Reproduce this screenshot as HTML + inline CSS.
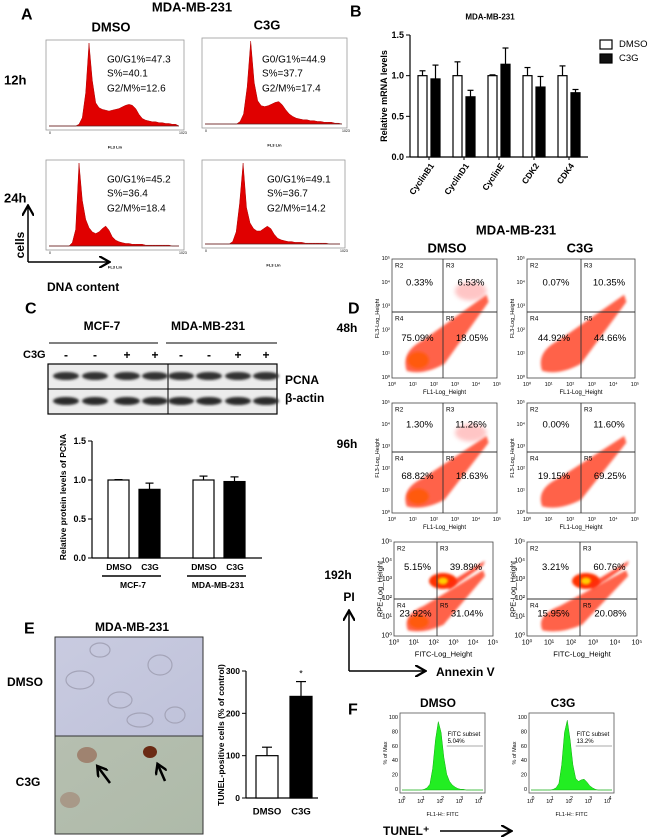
<!DOCTYPE html>
<html><head><meta charset="utf-8">
<style>
html,body{margin:0;padding:0;background:#fff;}
#fig{position:relative;width:650px;height:840px;overflow:hidden;font-family:"Liberation Sans",sans-serif;}
svg text{font-family:"Liberation Sans",sans-serif;}
</style></head>
<body>
<div id="fig">
<svg id="svg" width="650" height="840" viewBox="0 0 650 840" xmlns="http://www.w3.org/2000/svg">
<defs>
<filter id="blur" x="-20%" y="-20%" width="140%" height="140%"><feGaussianBlur stdDeviation="2.2"/></filter>
<filter id="blur2" x="-20%" y="-20%" width="140%" height="140%"><feGaussianBlur stdDeviation="1.2"/></filter>
<marker id="arr" markerWidth="8" markerHeight="8" refX="6" refY="4" orient="auto"><path d="M0,0 L7,4 L0,8" fill="none" stroke="#000" stroke-width="1.5"/></marker>
<marker id="arrS" markerWidth="5" markerHeight="5" refX="3.5" refY="2.5" orient="auto"><path d="M0,0 L4,2.5 L0,5" fill="none" stroke="#000" stroke-width="1"/></marker>
<linearGradient id="imgTop" x1="0" y1="0" x2="1" y2="1"><stop offset="0" stop-color="#c9cbe0"/><stop offset="1" stop-color="#bfc2da"/></linearGradient>
<linearGradient id="imgBot" x1="0" y1="0" x2="1" y2="1"><stop offset="0" stop-color="#b6bfb0"/><stop offset="1" stop-color="#aebaa9"/></linearGradient>
</defs>
<g id="root"></g>
</svg>
</div>
<script>
// ---------- DATA ----------
// Panel A histograms (relative counts, 40 bins)
const histA12DMSO = [0,0,0,0,0,0,0,0,0,0.02,0.1,0.4,1.0,0.55,0.28,0.22,0.2,0.19,0.18,0.19,0.2,0.21,0.23,0.25,0.26,0.25,0.21,0.14,0.09,0.07,0.06,0.05,0.05,0.04,0.04,0.03,0.03,0.02,0.02,0];
const histA12C3G  = [0,0,0,0,0,0,0,0,0,0,0.03,0.12,0.45,1.0,0.5,0.28,0.22,0.21,0.22,0.24,0.26,0.27,0.23,0.17,0.12,0.09,0.07,0.06,0.05,0.05,0.04,0.04,0.03,0.03,0.02,0.02,0.02,0.01,0.01,0];
const histA24DMSO = [0,0,0,0,0,0,0,0.04,0.2,1.0,0.55,0.32,0.22,0.17,0.15,0.17,0.21,0.24,0.19,0.11,0.07,0.05,0.04,0.03,0.03,0.02,0.02,0.02,0.02,0.01,0.01,0.01,0.01,0.01,0.01,0.01,0.01,0,0,0];
const histA24C3G  = [0,0,0,0,0,0,0,0,0.03,0.15,0.5,1.0,0.45,0.26,0.19,0.16,0.16,0.19,0.22,0.19,0.12,0.07,0.05,0.04,0.03,0.03,0.02,0.02,0.02,0.01,0.01,0.01,0.01,0.01,0.01,0.01,0,0,0,0];
const statsA = [["G0/G1%=47.3","S%=40.1","G2/M%=12.6"],["G0/G1%=44.9","S%=37.7","G2/M%=17.4"],["G0/G1%=45.2","S%=36.4","G2/M%=18.4"],["G0/G1%=49.1","S%=36.7","G2/M%=14.2"]];

// Panel B
const genesB = ["CyclinB1","CyclinD1","CyclinE","CDK2","CDK4"];
const dmsoB = [1.0,1.0,1.0,1.0,1.0];
const dmsoBerr = [0.06,0.17,0.01,0.1,0.12];
const c3gB = [0.96,0.74,1.14,0.86,0.79];
const c3gBerr = [0.17,0.08,0.2,0.13,0.04];
const ticksB = [0.0,0.5,1.0,1.5];

// Panel C
const groupsC = ["MCF-7","MDA-MB-231"];
const dmsoC = [1.0,1.0];
const dmsoCerr = [0.005,0.05];
const c3gC = [0.88,0.98];
const c3gCerr = [0.08,0.06];
const ticksC = [0.0,0.5,1.0,1.5];

// Panel D quadrant percentages [R2,R3,R4,R5]
const quadD = [["0.33%","6.53%","75.09%","18.05%"],["0.07%","10.35%","44.92%","44.66%"],["1.30%","11.26%","68.82%","18.63%"],["0.00%","11.60%","19.15%","69.25%"],["5.15%","39.89%","23.92%","31.04%"],["3.21%","60.76%","15.95%","20.08%"]];

// Panel E
const catsE = ["DMSO","C3G"];
const valsE = [100,240];
const errE = [20,35];
const ticksE = [0,100,200,300];

// Panel F histograms (30 bins, % of max)
const histFDMSO = [0,0,0,0,0,0,0,0,1,3,8,30,70,95,80,45,22,12,7,4,2,1,1,0,0,0,0,0,0,0];
const histFC3G  = [0,0,0,0,0,0,0,0,1,3,9,35,80,97,70,35,16,12,14,15,11,6,3,1,0,0,0,0,0,0];
const subsetF = ["5.04%","13.2%"];

// ---------- HELPERS ----------
const NS="http://www.w3.org/2000/svg";
const root=document.getElementById('root');
function mk(tag,attrs,parent){const e=document.createElementNS(NS,tag);for(const k in attrs)e.setAttribute(k,attrs[k]);(parent||root).appendChild(e);return e;}
function txt(x,y,s,size,opts){opts=opts||{};const e=mk('text',{x:x,y:y,'font-size':size,'text-anchor':opts.anchor||'start','font-weight':opts.bold?'bold':'normal',fill:opts.fill||'#000','dominant-baseline':'central'},opts.parent);if(opts.rot!==undefined)e.setAttribute('transform','rotate('+opts.rot+' '+x+' '+y+')');e.textContent=s;return e;}
function linear(d0,d1,r0,r1){return v=>r0+(v-d0)/(d1-d0)*(r1-r0);}

// ---------- PANEL A ----------
let t;
t=txt(21,15,"A",16,{bold:true});
t=txt(192,7,"MDA-MB-231",13,{bold:true,anchor:'middle'});
t=txt(111,27,"DMSO",13,{bold:true,anchor:'middle'});
t=txt(267,25,"C3G",13,{bold:true,anchor:'middle'});
t=txt(4,80,"12h",13,{bold:true});
t=txt(4,198,"24h",13,{bold:true});
const boxesA=[[46,40,184,130],[202,38,347,128],[46,160,184,250],[202,160,345,248]];
const histsA=[histA12DMSO,histA12C3G,histA24DMSO,histA24C3G];
boxesA.forEach((b,i)=>{
  const g=mk('g',{});
  
  
  mk('rect',{x:b[0],y:b[1],width:b[2]-b[0],height:b[3]-b[1],fill:'#fff',stroke:'#999','stroke-width':0.8},g);
  const x0=b[0]+3,x1=b[2]-5,yb=b[3]-4,yt=b[1]+3;
  const h=histsA[i];const xs=linear(0,h.length-1,x0,x1);const ys=linear(0,1,yb,yt);
  let d='M'+x0+','+yb;h.forEach((v,k)=>{d+=' L'+xs(k).toFixed(1)+','+ys(v).toFixed(1);});d+=' L'+x1+','+yb+' Z';
  const p=mk('path',{d:d,fill:'#e00000',stroke:'#b00000','stroke-width':0.5},g);
  
  
  mk('line',{x1:x0,y1:yb,x2:x1,y2:yb,stroke:'#333','stroke-width':0.6},g);
  txt(x0,b[3]+3,"0",3.5,{parent:g});txt(x1,b[3]+3,"1023",3.5,{parent:g});
  txt((b[0]+b[2])/2,b[3]+17,"FL3 Lin",4,{anchor:'middle',bold:true,parent:g});
  const tx=i%2===0?107:262+(i===3?5:0);const ty=i<2?[60,74,89]:[180,194,209];
  statsA[i].forEach((s,k)=>{const e=txt(tx,ty[k],s,10,{parent:g});});
});
let ln=mk('line',{x1:28,y1:262,x2:28,y2:207,stroke:'#000','stroke-width':1.5,'marker-end':'url(#arr)'});
ln=mk('line',{x1:28,y1:262,x2:108,y2:262,stroke:'#000','stroke-width':1.5,'marker-end':'url(#arr)'});
t=txt(20,245,"cells",12,{bold:true,anchor:'middle',rot:-90});
t=txt(47,287,"DNA content",12,{bold:true});

// ---------- PANEL B ----------
t=txt(350,12,"B",16,{bold:true});
t=txt(490,17,"MDA-MB-231",8,{bold:true,anchor:'middle'});
const yB=linear(0,1.5,157,35);
const gB=mk('g',{});
mk('line',{x1:410,y1:yB(0),x2:410,y2:yB(1.5),stroke:'#000','stroke-width':1.2},gB);
mk('line',{x1:410,y1:yB(0),x2:588,y2:yB(0),stroke:'#000','stroke-width':1.2},gB);
ticksB.forEach(v=>{mk('line',{x1:406,y1:yB(v),x2:410,y2:yB(v),stroke:'#000'},gB);txt(404,yB(v),v.toFixed(1),9,{anchor:'end',bold:true,parent:gB});});
t=txt(384,96,"Relative mRNA levels",9,{bold:true,anchor:'middle',rot:-90,parent:gB});
function bar(g,x,w,y0,y1,fill,name){const r=mk('rect',{x:x,y:Math.min(y0,y1),width:w,height:Math.abs(y0-y1),fill:fill,stroke:'#000','stroke-width':1.2},g);return r;}
function err(g,cx,ytop,yerr,cap){mk('line',{x1:cx,y1:ytop,x2:cx,y2:yerr,stroke:'#000','stroke-width':1.2},g);mk('line',{x1:cx-cap,y1:yerr,x2:cx+cap,y2:yerr,stroke:'#000','stroke-width':1.2},g);}
genesB.forEach((gname,i)=>{
  const x=418+i*35;
  err(gB,x+4.5,yB(dmsoB[i]),yB(dmsoB[i]+dmsoBerr[i]),3);
  bar(gB,x,9,yB(0),yB(dmsoB[i]),'#fff','bar-dmso-'+gname.toLowerCase());
  err(gB,x+17.5,yB(c3gB[i]),yB(c3gB[i]+c3gBerr[i]),3);
  bar(gB,x+13,9,yB(0),yB(c3gB[i]),'#000','bar-c3g-'+gname.toLowerCase());
  mk('line',{x1:x+11,y1:yB(0),x2:x+11,y2:yB(0)+3,stroke:'#000'},gB);
  const e=txt(x+14,164,gname,8.5,{bold:true,anchor:'end',rot:-55,parent:gB});
});
let lg=mk('g',{});
mk('rect',{x:600,y:40,width:12,height:9,fill:'#fff',stroke:'#000','stroke-width':1.2},lg);txt(619,44.5,"DMSO",9.5,{parent:lg});
mk('rect',{x:600,y:54,width:12,height:9,fill:'#111',stroke:'#000','stroke-width':1.2},lg);txt(619,58.5,"C3G",9.5,{parent:lg});

// ---------- PANEL C ----------
t=txt(25,309,"C",16,{bold:true});
txt(102,326,"MCF-7",12,{bold:true,anchor:'middle'});txt(208,326,"MDA-MB-231",12,{bold:true,anchor:'middle'});
mk('line',{x1:49,y1:343,x2:158,y2:343,stroke:'#000'});mk('line',{x1:166,y1:343,x2:277,y2:343,stroke:'#000'});
txt(23,355,"C3G",11,{bold:true});
["-","-","+","+","-","-","+","+"].forEach((s,i)=>{txt([66,95,127,155,181,209,238,266][i],355,s,12,{bold:true,anchor:'middle'});});
const blot=mk('g',{});
mk('rect',{x:48,y:364,width:229,height:50,fill:'#ececec',stroke:'#000','stroke-width':1.2},blot);
mk('line',{x1:48,y1:389,x2:277,y2:389,stroke:'#000'},blot);mk('line',{x1:168,y1:364,x2:168,y2:414,stroke:'#000'},blot);
[66,95,127,155,181,209,238,266].forEach((cx,i)=>{
  mk('ellipse',{cx:cx,cy:376,rx:13,ry:4,fill:'#333',filter:'url(#blur2)'},blot);
  mk('ellipse',{cx:cx,cy:401,rx:13,ry:4,fill:'#2a2a2a',filter:'url(#blur2)'},blot);
});
txt(285,380,"PCNA",12,{bold:true});txt(285,398,"β-actin",12,{bold:true});
const yC=linear(0,1.5,558,441);
const gC=mk('g',{});
mk('line',{x1:92,y1:yC(0),x2:92,y2:yC(1.5),stroke:'#000','stroke-width':1.2},gC);
mk('line',{x1:92,y1:yC(0),x2:262,y2:yC(0),stroke:'#000','stroke-width':1.2},gC);
ticksC.forEach(v=>{mk('line',{x1:88,y1:yC(v),x2:92,y2:yC(v),stroke:'#000'},gC);txt(86,yC(v),v.toFixed(1),9,{anchor:'end',bold:true,parent:gC});});
txt(63,497,"Relative protein levels of PCNA",8.5,{bold:true,anchor:'middle',rot:-90,parent:gC});
groupsC.forEach((gname,i)=>{
  const x=108+i*85;
  err(gC,x+10.5,yC(dmsoC[i]),yC(dmsoC[i]+dmsoCerr[i]),4);
  bar(gC,x,21,yC(0),yC(dmsoC[i]),'#fff','bar-dmso-'+gname.toLowerCase());
  err(gC,x+41.5,yC(c3gC[i]),yC(c3gC[i]+c3gCerr[i]),4);
  bar(gC,x+31,21,yC(0),yC(c3gC[i]),'#000','bar-c3g-'+gname.toLowerCase());
  txt(x+11,567,"DMSO",8.5,{bold:true,anchor:'middle',parent:gC});txt(x+42,567,"C3G",8.5,{bold:true,anchor:'middle',parent:gC});
  mk('line',{x1:x-6,y1:576,x2:x+53,y2:576,stroke:'#000','stroke-width':1.5},gC);
  txt(x+25,585,gname,8.5,{bold:true,anchor:'middle',parent:gC});
});

// ---------- PANEL D ----------
t=txt(348,309,"D",16,{bold:true});
txt(516,230,"MDA-MB-231",13,{bold:true,anchor:'middle'});
txt(447,248,"DMSO",13,{bold:true,anchor:'middle'});txt(580,248,"C3G",13,{bold:true,anchor:'middle'});
txt(347,328,"48h",12,{bold:true,anchor:'middle'});txt(347,444,"96h",12,{bold:true,anchor:'middle'});txt(338,575,"192h",12,{bold:true,anchor:'middle'});txt(349,597,"PI",12,{bold:true,anchor:'middle'});
const boxesD=[[392,259,497,378,443,312],[527,259,635,378,581,312],[392,403,497,513,443,452],[527,403,635,513,581,452],[394,542,493,636,437,599],[527,542,637,636,580,599]];
const sup=["⁰","¹","²","³","⁴","⁵"];
boxesD.forEach((b,i)=>{
  const g=mk('g',{});
  
  
  const [x0,y0,x1,y1,vx,hy]=b;const w=x1-x0,h=y1-y0;
  mk('rect',{x:x0,y:y0,width:w,height:h,fill:'#fff'},g);
  const late=i>=4;
  const bl='M'+(x0+w*0.14)+','+(y1-h*0.06)+' Q'+(x0+w*0.08)+','+(y1-h*0.22)+' '+(x0+w*0.3)+','+(y1-h*0.32)+' L'+(x0+w*0.9)+','+(y0+h*0.3)+' L'+(x0+w*0.92)+','+(y0+h*0.36)+' L'+(x0+w*0.5)+','+(y1-h*0.12)+' Q'+(x0+w*0.3)+','+(y1-h*0.02)+' '+(x0+w*0.14)+','+(y1-h*0.06)+' Z';
  mk('path',{d:bl,fill:'#ff3a1a',opacity:0.8,filter:'url(#blur2)'},g);
  if(i===0||i===2||i===4){mk('ellipse',{cx:x0+w*0.25,cy:y1-h*0.15,rx:w*0.1,ry:h*0.07,fill:'#ff5a10',filter:'url(#blur2)'},g);}
  if(i===0||i===2){mk('ellipse',{cx:x0+w*0.75,cy:y0+h*0.27,rx:w*0.15,ry:h*0.08,fill:'#ff8080',opacity:0.45,filter:'url(#blur)'},g);}
  if(late){mk('ellipse',{cx:vx+6,cy:hy-18,rx:14,ry:8,fill:'#ff3000',filter:'url(#blur2)'},g);
    mk('ellipse',{cx:vx+6,cy:hy-18,rx:5,ry:3.5,fill:'#ffd000',filter:'url(#blur2)'},g);
    mk('path',{d:'M'+(vx+10)+','+(hy-15)+' L'+(x1-8)+','+(y0+h*0.2)+' L'+(x1-10)+','+(y0+h*0.25)+' L'+(vx+12)+','+(hy-9)+' Z',fill:'#ff2a10',opacity:0.8,filter:'url(#blur2)'},g);}
  mk('rect',{x:x0,y:y0,width:w,height:h,fill:'none',stroke:'#444','stroke-width':0.8},g);
  mk('line',{x1:vx,y1:y0,x2:vx,y2:y1,stroke:'#333','stroke-width':0.9},g);
  mk('line',{x1:x0,y1:hy,x2:x1,y2:hy,stroke:'#333','stroke-width':0.9},g);
  txt(x0+3,y0+7,"R2",6.5,{parent:g});txt(vx+3,y0+7,"R3",6.5,{parent:g});txt(x0+3,hy+7,"R4",6.5,{parent:g});txt(vx+3,hy+7,"R5",6.5,{parent:g});
  const q=quadD[i];const fs=9.5;
  txt((x0+vx)/2+2,y0+(hy-y0)*0.45,q[0],fs,{anchor:'middle',parent:g});
  txt((vx+x1)/2+1,y0+(hy-y0)*0.45,q[1],fs,{anchor:'middle',parent:g});
  txt((x0+vx)/2,hy+(y1-hy)*0.4,q[2],fs,{anchor:'middle',parent:g});
  txt((vx+x1)/2+2,hy+(y1-hy)*0.4,q[3],fs,{anchor:'middle',parent:g});
  for(let k=0;k<6;k++){txt(x0+w*k/5,y1+7,"10"+sup[k],late?7:5.5,{anchor:'middle',parent:g});txt(x0-2,y1-h*k/5,"10"+sup[k],late?7:5.5,{anchor:'end',parent:g});}
  txt((x0+x1)/2,y1+(late?18:15),late?"FITC-Log_Height":"FL1-Log_Height",late?7.5:6,{anchor:'middle',parent:g});
  txt(x0-14,(y0+y1)/2,late?"RPE-Log_Height":"FL3-Log_Height",late?7.5:5.5,{anchor:'middle',rot:-90,parent:g});
});
ln=mk('line',{x1:349,y1:671,x2:349,y2:612,stroke:'#000','stroke-width':1.5,'marker-end':'url(#arr)'});
ln=mk('line',{x1:349,y1:671,x2:424,y2:671,stroke:'#000','stroke-width':1.5,'marker-end':'url(#arr)'});
txt(436,672,"Annexin V",12,{bold:true});

// ---------- PANEL E ----------
t=txt(24,629,"E",16,{bold:true});
txt(132,627,"MDA-MB-231",12,{bold:true,anchor:'middle'});
txt(25,682,"DMSO",12,{bold:true,anchor:'middle'});txt(28,782,"C3G",12,{bold:true,anchor:'middle'});
const img=mk('g',{});
mk('rect',{x:55,y:637,width:148,height:99,fill:'url(#imgTop)'},img);
mk('rect',{x:55,y:736,width:148,height:98,fill:'url(#imgBot)'},img);
[[80,680,14,9],[120,700,12,8],[160,665,12,10],[100,650,10,7],[175,715,10,8],[140,720,13,7]].forEach(c=>mk('ellipse',{cx:c[0],cy:c[1],rx:c[2],ry:c[3],fill:'none',stroke:'#a4a4b8','stroke-width':1.2},img));
mk('ellipse',{cx:87,cy:755,rx:10,ry:8,fill:'#9a7460',opacity:0.8},img);
mk('ellipse',{cx:150,cy:752,rx:7,ry:6,fill:'#6a2a14'},img);
mk('ellipse',{cx:70,cy:800,rx:10,ry:8,fill:'#a08070',opacity:0.6},img);
mk('line',{x1:110,y1:783,x2:98,y2:767,stroke:'#000','stroke-width':2.5,'marker-end':'url(#arrS)'},img);
mk('line',{x1:165,y1:781,x2:158,y2:765,stroke:'#000','stroke-width':2.5,'marker-end':'url(#arrS)'},img);
mk('rect',{x:55,y:637,width:148,height:197,fill:'none',stroke:'#333','stroke-width':1},img);
mk('line',{x1:55,y1:736,x2:203,y2:736,stroke:'#333','stroke-width':1},img);
const yE=linear(0,300,798,671);
const gE=mk('g',{});
mk('line',{x1:246,y1:yE(0),x2:246,y2:yE(300),stroke:'#000','stroke-width':1.2},gE);
mk('line',{x1:246,y1:yE(0),x2:318,y2:yE(0),stroke:'#000','stroke-width':1.2},gE);
ticksE.forEach(v=>{mk('line',{x1:242,y1:yE(v),x2:246,y2:yE(v),stroke:'#000'},gE);txt(240,yE(v),String(v),8.5,{anchor:'end',bold:true,parent:gE});});
txt(221,735,"TUNEL-positive cells (% of control)",8.5,{bold:true,anchor:'middle',rot:-90,parent:gE});
catsE.forEach((c,i)=>{
  const x=256+i*34;
  err(gE,x+11,yE(valsE[i]),yE(valsE[i]+errE[i]),5);
  bar(gE,x,22,yE(0),yE(valsE[i]),i===0?'#fff':'#000','bar-'+c.toLowerCase());
  txt(x+11,812,c,9.5,{bold:true,anchor:'middle',parent:gE});
});
txt(301,yE(valsE[1]+errE[1])-8,"*",9,{anchor:'middle',parent:gE});

// ---------- PANEL F ----------
t=txt(348,710,"F",16,{bold:true});
txt(438,703,"DMSO",12,{bold:true,anchor:'middle'});txt(563,703,"C3G",12,{bold:true,anchor:'middle'});
[[400,713,485,793,histFDMSO],[529,713,614,793,histFC3G]].forEach((b,i)=>{
  const g=mk('g',{});
  
  
  const [x0,y0,x1,y1,h]=b;const xs=linear(0,h.length-1,x0+2,x1-2);const ys=linear(0,100,y1-3,y0+5);
  let d='M'+xs(0)+','+ys(0);h.forEach((v,k)=>{d+=' L'+xs(k).toFixed(1)+','+ys(v).toFixed(1);});d+=' L'+xs(h.length-1)+','+ys(0)+' Z';
  const p=mk('path',{d:d,fill:'#22ee22',stroke:'#11aa11','stroke-width':0.5},g);
  
  
  mk('rect',{x:x0,y:y0,width:x1-x0,height:y1-y0,fill:'none',stroke:'#555','stroke-width':0.8},g);
  [0,20,40,60,80,100].forEach(v=>{txt(x0-2,ys(v),String(v),5.5,{anchor:'end',parent:g});});
  for(let k=0;k<5;k++){txt(x0+4+k*(x1-x0-8)/4,y1+6,k===0?"0":String(k),5,{anchor:'middle',parent:g});txt(x0+1+k*(x1-x0-8)/4,y1+9,"10",5.5,{anchor:'middle',parent:g});}
  txt((x0+x1)/2,y1+22,"FL1-H:: FITC",5.5,{anchor:'middle',parent:g});
  txt(x0-14,(y0+y1)/2,"% of Max",5.5,{anchor:'middle',rot:-90,parent:g});
  mk('line',{x1:x0+(x1-x0)*0.55,y1:y0+33,x2:x1-2,y2:y0+33,stroke:'#555','stroke-width':0.6},g);
  txt(x0+(x1-x0)*0.56,y0+22,"FITC subset",6,{parent:g});
  txt(x0+(x1-x0)*0.56,y0+29,subsetF[i],6,{parent:g});
});
txt(383,831,"TUNEL⁺",12,{bold:true});
ln=mk('line',{x1:440,y1:831,x2:510,y2:831,stroke:'#000','stroke-width':1.5,'marker-end':'url(#arr)'});
</script>
</body></html>
